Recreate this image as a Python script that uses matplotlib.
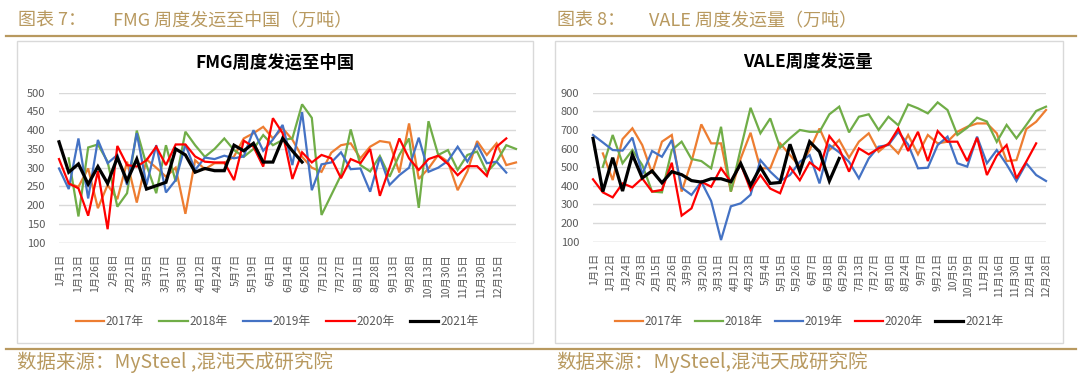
import numpy as np
import matplotlib
matplotlib.use('Agg')
import matplotlib.pyplot as plt
from matplotlib.lines import Line2D
from matplotlib.patches import Rectangle

plt.rcParams['font.family'] = ['Noto Sans CJK SC', 'DejaVu Sans']

W, H = 1080, 375

years = ['2017年', '2018年', '2019年', '2020年', '2021年']
colors = ['#ED7D31', '#70AD47', '#4472C4', '#FF0000', '#000000']
widths = [1.6, 1.6, 1.6, 1.6, 2.3]

# FMG weekly shipments to China (10k t); None = no data that week
fmg_labels = ['1月1日', '1月13日', '1月26日', '2月8日', '2月21日', '3月5日', '3月17日',
              '3月30日', '4月12日', '4月24日', '5月7日', '5月19日', '6月1日', '6月14日',
              '6月26日', '7月12日', '7月27日', '8月11日', '8月28日', '9月13日', '9月28日',
              '10月13日', '10月30日', '11月15日', '11月30日', '12月15日']
fmg_2017 = [None, 258, 249, 298, 192, 254, 216, 316, 207, 322, 300, 276, 300, 177, 320, 296,
            312, 312, 330, 378, 392, 409, 378, 405, 375, 329, 300, 289, 340, 360, 365, 325,
            356, 371, 367, 287, 418, 270, 298, 334, 316, 240, 290, 371, 334, 365, 307, 314]
fmg_2018 = [None, 325, 170, 354, 362, 316, 196, 232, 399, 307, 232, 360, 263, 396, 360, 329,
            350, 378, 347, 329, 350, 387, 360, 374, 378, 469, 433, 174, 227, 280, 402, 307,
            290, 331, 276, 334, 378, 193, 424, 334, 347, 294, 334, 343, 288, 316, 360, 350]
fmg_2019 = [298, 243, 378, 218, 374, 312, 334, 254, 392, 254, 360, 234, 267, 362, 294, 327,
            323, 332, 325, 330, 400, 345, 375, 414, 307, 448, 240, 309, 314, 341, 296, 298,
            236, 328, 254, 280, 300, 380, 289, 300, 318, 356, 316, 362, 312, 316, 287]
fmg_2020 = [323, 258, 245, 172, 291, 136, 358, 307, 303, 320, 356, 307, 362, 362, 330, 316,
            314, 314, 267, 372, 356, 303, 432, 392, 270, 341, 314, 334, 325, 272, 323, 312,
            350, 225, 300, 378, 325, 294, 323, 332, 310, 280, 304, 304, 278, 356, 378]
fmg_2021 = [369, 288, 310, 256, 303, 258, 327, 265, 323, 243, 252, 261, 350, 334, 288, 298,
            292, 292, 360, 345, 365, 315, 315, 378, 345, 315]

# VALE weekly shipments (10k t)
vale_labels = ['1月1日', '1月12日', '1月24日', '2月3日', '2月15日', '2月26日', '3月9日',
               '3月20日', '3月31日', '4月12日', '4月23日', '5月4日', '5月15日', '5月26日',
               '6月7日', '6月18日', '6月29日', '7月13日', '7月27日', '8月10日', '8月24日',
               '9月7日', '9月21日', '10月5日', '10月19日', '11月2日', '11月16日', '11月30日',
               '12月14日', '12月28日']
vale_2017 = [None, 574, 431, 651, 709, 619, 467, 637, 673, 369, 530, 730, 628, 628, 369, 547,
             685, 494, 494, 628, 565, 503, 592, 708, 592, 646, 551, 637, 682, 583, 628, 574,
             673, 569, 673, 628, 637, 690, 717, 735, 735, 682, 533, 538, 705, 744, 807]
vale_2018 = [None, 502, 673, 521, 592, 512, 369, 365, 592, 637, 544, 533, 494, 717, 369, 600,
             819, 682, 762, 605, 655, 700, 690, 690, 784, 825, 687, 771, 784, 700, 771, 725,
             837, 816, 789, 848, 807, 673, 712, 766, 745, 636, 727, 655, 727, 802, 825]
vale_2019 = [673, 633, 592, 589, 659, 462, 587, 556, 646, 390, 351, 422, 318, 109, 290, 306,
             352, 538, 476, 426, 458, 529, 565, 413, 619, 580, 529, 440, 547, 610, 619, 690,
             622, 494, 497, 619, 664, 521, 503, 664, 521, 592, 515, 426, 521, 458, 426]
vale_2020 = [435, 365, 338, 413, 392, 440, 369, 378, 524, 240, 279, 422, 395, 494, 422, 517,
             378, 458, 385, 360, 500, 430, 526, 485, 667, 600, 476, 601, 569, 601, 623, 708,
             587, 690, 533, 694, 637, 637, 533, 658, 458, 562, 619, 440, 530, 628]
vale_2021 = [655, 369, 551, 372, 567, 442, 480, 416, 476, 460, 428, 420, 438, 438, 422, 520,
             402, 500, 413, 418, 623, 476, 637, 583, 426, 547]

gold = '#b8995f'
grey_txt = '#595959'


def px(x, y):
    return x / W, 1 - y / H


def draw_panel(fig, rect, title, series, labels, ylim, ystep, title_x, legend_x, col_sp):
    ax = fig.add_axes(rect)
    n = max(len(s) for s in series)
    for vals, c, lw in zip(series, colors, widths):
        y = np.array([np.nan if v is None else v for v in vals], dtype=float)
        ax.plot(np.arange(len(y)), y, color=c, lw=lw, solid_joinstyle='miter',
                clip_on=False, zorder=3)
    ax.set_xlim(0, n - 1)
    ax.set_ylim(*ylim)
    ax.set_yticks(np.arange(ylim[0], ylim[1] + 1, ystep))
    ax.yaxis.grid(True, color='#d9d9d9', lw=1.0)
    ax.set_axisbelow(True)
    for s in ax.spines.values():
        s.set_visible(False)
    ax.axhline(ylim[0], color='#d9d9d9', lw=1.0, zorder=1)
    # tick labels sit evenly between the first and the last week shown
    last = (n - 1) * (len(labels) - 1) / len(labels) if n == 48 else n - 1
    ax.set_xticks(np.linspace(0.15, last, len(labels)))
    ax.set_xticklabels(labels, rotation=90, fontsize=7.5, color=grey_txt)
    ax.tick_params(axis='both', length=0, pad=8)
    ax.tick_params(axis='y', labelsize=8, labelcolor=grey_txt, pad=10)
    fig.text(*px(title_x, 63), title, ha='center', va='center', fontsize=12.5,
             fontweight='bold', color='#000000')
    handles = [Line2D([], [], color=c, lw=lw) for c, lw in zip(colors, widths)]
    fig.legend(handles, years, loc='center', bbox_to_anchor=px(legend_x, 322), ncol=5,
               frameon=False, fontsize=8.5, handlelength=2.4, handletextpad=0.15,
               columnspacing=col_sp, labelcolor=grey_txt)
    return ax


fig = plt.figure(figsize=(W / 100, H / 100), dpi=100)

# panel frames
for x0, x1 in [(17, 533), (555, 1063)]:
    fig.patches.append(Rectangle(px(x0, 343), (x1 - x0) / W, 302 / H, transform=fig.transFigure,
                                 fill=False, edgecolor='#d9d9d9', lw=1.0))

# gold rules
fig.add_artist(Line2D([6 / W, 1076 / W], [1 - 36 / H] * 2, color=gold, lw=1.6))
fig.add_artist(Line2D([6 / W, 1076 / W], [1 - 349 / H] * 2, color=gold, lw=1.6))

cap = dict(ha='left', va='center', fontsize=13, color=gold, fontweight='light')
fig.text(*px(18, 21), '图表 7：', **cap)
fig.text(*px(113, 21), 'FMG 周度发运至中国（万吨）', **cap)
fig.text(*px(557, 21), '图表 8：', **cap)
fig.text(*px(649, 21), 'VALE 周度发运量（万吨）', **cap)

src = dict(ha='left', va='center', fontsize=14, color=gold, fontweight='light')
fig.text(*px(17, 362), '数据来源：MySteel ,混沌天成研究院', **src)
fig.text(*px(556, 362), '数据来源：MySteel,混沌天成研究院', **src)

draw_panel(fig, [59 / W, 1 - 242.7 / H, (516 - 59) / W, 150 / H], 'FMG周度发运至中国',
           [fmg_2017, fmg_2018, fmg_2019, fmg_2020, fmg_2021], fmg_labels,
           (100, 500), 50, 275, 277, 1.3)
draw_panel(fig, [593 / W, 1 - 241.7 / H, (1046 - 593) / W, 149 / H], 'VALE周度发运量',
           [vale_2017, vale_2018, vale_2019, vale_2020, vale_2021], vale_labels,
           (100, 900), 100, 808, 809, 1.0)

fig.savefig('out.png', dpi=100)
